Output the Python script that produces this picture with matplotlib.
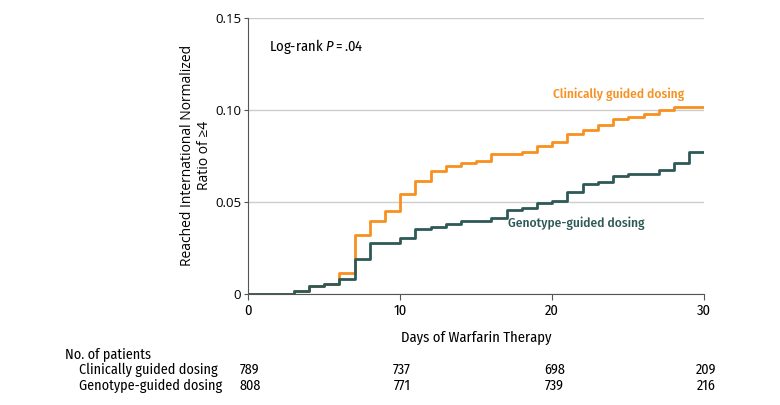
import matplotlib.pyplot as plt

# Kaplan-Meier style cumulative incidence
clin_days = [0, 3, 4, 5, 6, 7, 8, 9, 10, 11, 12, 13, 14, 15, 16, 18, 19, 20,
             21, 22, 23, 24, 25, 26, 27, 28, 30]
clin_vals = [0, 0.0016, 0.0042, 0.0053, 0.0115, 0.0320, 0.0398, 0.0449, 0.0540,
             0.0616, 0.0669, 0.0696, 0.0709, 0.0720, 0.0762, 0.0773, 0.0802,
             0.0827, 0.0867, 0.0893, 0.0920, 0.0951, 0.0964, 0.0980, 0.1000,
             0.1018, 0.1018]

geno_days = [0, 3, 4, 5, 6, 7, 8, 10, 11, 12, 13, 14, 16, 17, 18, 19, 20, 21,
             22, 23, 24, 25, 27, 28, 29, 30]
geno_vals = [0, 0.0016, 0.0042, 0.0053, 0.0078, 0.0191, 0.0278, 0.0302, 0.0353,
             0.0365, 0.0378, 0.0393, 0.0414, 0.0453, 0.0466, 0.0491, 0.0506,
             0.0556, 0.0598, 0.0609, 0.0638, 0.0654, 0.0671, 0.0713, 0.0773,
             0.0773]

risk_days = [0, 10, 20, 30]
clin_risk = [789, 737, 698, 209]
geno_risk = [808, 771, 739, 216]

orange = "#F7901E"
green = "#2E5957"
narrow = ["Fira Sans Condensed", "DejaVu Sans"]
plain = ["Open Sans", "DejaVu Sans"]

plt.rcParams["font.family"] = narrow
plt.rcParams["mathtext.fontset"] = "custom"
plt.rcParams["mathtext.it"] = "Fira Sans Condensed:italic"
plt.rcParams["mathtext.rm"] = "Fira Sans Condensed"

fig = plt.figure(figsize=(7.8, 4.05), dpi=100)
ax = fig.add_axes([0.318, 0.275, 0.585, 0.68])

ax.step(clin_days, clin_vals, where="post", color=orange, lw=2, zorder=3)
ax.step(geno_days, geno_vals, where="post", color=green, lw=2, zorder=4)

ax.set_xlim(0, 30)
ax.set_ylim(0, 0.15)
ax.set_xticks([0, 10, 20, 30])
ax.set_yticks([0, 0.05, 0.10, 0.15])
ax.set_yticklabels(["0", "0.05", "0.10", "0.15"], family=plain)
ax.tick_params(labelsize=10.5, color="#555555", length=4)
ax.tick_params(axis="y", labelsize=9.5, length=3, pad=2)
ax.grid(axis="y", color="#cccccc", lw=1)
ax.set_axisbelow(True)
for s in ["top", "right"]:
    ax.spines[s].set_visible(False)
for s in ["left", "bottom"]:
    ax.spines[s].set_color("#555555")

ax.set_xlabel("Days of Warfarin Therapy", fontsize=10.5, labelpad=9)
ax.set_ylabel("Reached International Normalized\nRatio of ≥4", fontsize=10,
              family=plain, labelpad=2, linespacing=1.2)

ax.text(1.4, 0.1345, "Log-rank $\\it{P}\\mathrm{=}$.04", fontsize=10.5, va="center")
ax.text(28.7, 0.1086, "Clinically guided dosing", color=orange, fontsize=9.6,
        fontweight="medium", ha="right", va="center")
ax.text(17.1, 0.0386, "Genotype-guided dosing", color=green, fontsize=9.6,
        fontweight="medium", ha="left", va="center")

# number at risk table
fig.text(65 / 780, 1 - 354 / 405, "No. of patients", fontsize=10.2, va="center")
fig.text(79 / 780, 1 - 370 / 405, "Clinically guided dosing", fontsize=10.2, va="center")
fig.text(79 / 780, 1 - 386 / 405, "Genotype-guided dosing", fontsize=10.2, va="center")
for d, c, g in zip(risk_days, clin_risk, geno_risk):
    xf = fig.transFigure.inverted().transform(ax.transData.transform((d, 0)))[0]
    fig.text(xf + 2 / 780, 1 - 370 / 405, str(c), fontsize=10.2, ha="center", va="center")
    fig.text(xf + 2 / 780, 1 - 386 / 405, str(g), fontsize=10.2, ha="center", va="center")

fig.savefig("out.png", dpi=100)
